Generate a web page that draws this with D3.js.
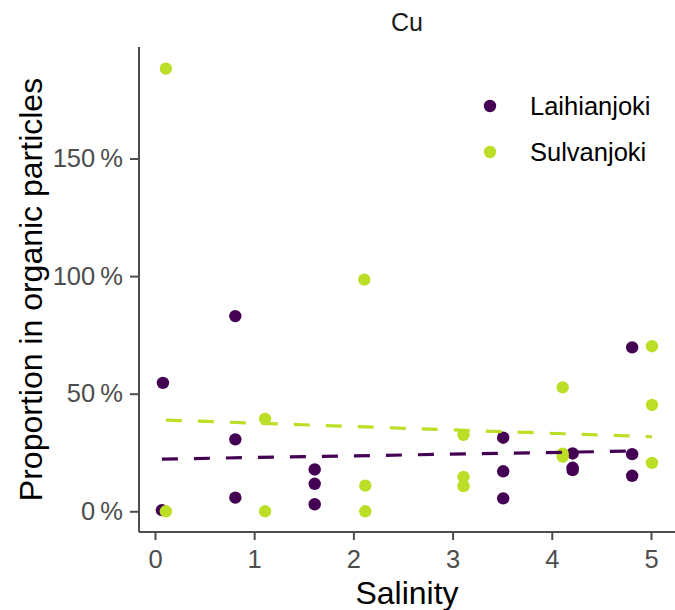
<!DOCTYPE html>
<html>
<head>
<meta charset="utf-8">
<script src="https://cdn.jsdelivr.net/npm/d3@7"></script>
<style>
  html, body { margin: 0; padding: 0; background: #fff; }
  svg { display: block; font-family: "Liberation Sans", Arial, sans-serif; }
</style>
</head>
<body>
<svg id="chart" width="675" height="610"></svg>
<script>
// ---- data ----
const seriesNames = ["Laihianjoki", "Sulvanjoki"];
const seriesColors = ["#440154", "#BBDF27"];

const laihianSalinity = [0.08, 0.07, 0.81, 0.81, 0.81, 1.61, 1.61, 1.61, 3.51, 3.51, 3.51, 4.21, 4.21, 4.21, 4.81, 4.81, 4.81];
const laihianValue    = [0.546, 0.005, 0.83, 0.306, 0.058, 0.178, 0.117, 0.03, 0.313, 0.17, 0.055, 0.246, 0.185, 0.175, 0.697, 0.243, 0.151];

const sulvanSalinity = [0.11, 0.11, 1.11, 1.11, 2.11, 2.12, 2.12, 3.11, 3.11, 3.11, 4.11, 4.11, 4.11, 5.01, 5.01, 5.01];
const sulvanValue    = [1.882, 0.0, 0.393, 0.0, 0.985, 0.109, 0.0, 0.325, 0.146, 0.107, 0.527, 0.245, 0.232, 0.702, 0.452, 0.206];

// fitted trend (start / end) per series
const laihianTrendX = [0.07, 4.81];
const laihianTrendY = [0.222, 0.256];
const sulvanTrendX  = [0.11, 5.01];
const sulvanTrendY  = [0.388, 0.317];

const xTicks = [0, 1, 2, 3, 4, 5];
const yTicks = [0, 0.5, 1.0, 1.5];
const panelTitle = "Cu";
const xTitle = "Salinity";
const yTitle = "Proportion in organic particles";

// ---- layout ----
const svg = d3.select("#chart");
const panel = { left: 139, right: 675, top: 47, bottom: 532 };

const x = d3.scaleLinear().domain([-0.161, 5.242]).range([panel.left, panel.right]);
const y = d3.scaleLinear().domain([-0.088, 1.974]).range([panel.bottom, panel.top]);

const axisColor = "#4d4d4d";

const series = [
  { name: seriesNames[0], color: seriesColors[0], xs: laihianSalinity, ys: laihianValue, tx: laihianTrendX, ty: laihianTrendY },
  { name: seriesNames[1], color: seriesColors[1], xs: sulvanSalinity, ys: sulvanValue, tx: sulvanTrendX, ty: sulvanTrendY }
];

// points
const gPts = svg.append("g");
series.forEach(s => {
  gPts.selectAll(null)
    .data(s.xs.map((v, i) => [v, s.ys[i]]))
    .enter().append("circle")
    .attr("cx", d => x(d[0]))
    .attr("cy", d => y(d[1]))
    .attr("r", 6.2)
    .attr("fill", s.color);
});

// trend lines
const line = d3.line().x(d => x(d[0])).y(d => y(d[1]));
series.forEach(s => {
  svg.append("path")
    .datum(s.tx.map((v, i) => [v, s.ty[i]]))
    .attr("d", line)
    .attr("fill", "none")
    .attr("stroke", s.color)
    .attr("stroke-width", 3.2)
    .attr("stroke-dasharray", "16,16");
});

// axes
const xAxis = d3.axisBottom(x).tickValues(xTicks).tickFormat(d3.format("d")).tickSize(8).tickPadding(10).tickSizeOuter(0);
const gx = svg.append("g").attr("transform", `translate(0,${panel.bottom})`).call(xAxis);
const yAxis = d3.axisLeft(y).tickValues(yTicks).tickFormat(d => Math.round(d * 100) + "\u2009%").tickSize(9).tickPadding(7).tickSizeOuter(0);
const gy = svg.append("g").attr("transform", `translate(${panel.left},0)`).call(yAxis);

[gx, gy].forEach(g => {
  g.select(".domain").attr("stroke", axisColor).attr("stroke-width", 2);
  g.selectAll(".tick line").attr("stroke", axisColor).attr("stroke-width", 2);
  g.selectAll(".tick text").attr("fill", axisColor).attr("font-size", 25.5)
    .attr("font-family", "Liberation Sans, Arial, sans-serif");
});
gy.select(".domain").attr("d", `M0,${panel.bottom}V${panel.top}`);
gx.select(".domain").attr("d", `M${panel.left},0H${panel.right}`);

// titles
svg.append("text").attr("x", (panel.left + panel.right) / 2).attr("y", 31)
  .attr("text-anchor", "middle").attr("font-size", 25).attr("fill", "#1a1a1a").text(panelTitle);
svg.append("text").attr("x", (panel.left + panel.right) / 2).attr("y", 604)
  .attr("text-anchor", "middle").attr("font-size", 32).attr("fill", "#000").text(xTitle);
svg.append("text").attr("transform", `translate(42,${(panel.top + panel.bottom) / 2}) rotate(-90)`)
  .attr("text-anchor", "middle").attr("font-size", 32).attr("fill", "#000").text(yTitle);

// legend
const legend = svg.append("g");
series.forEach((s, i) => {
  const ly = 106 + i * 46;
  legend.append("circle").attr("cx", 490).attr("cy", ly).attr("r", 6.2).attr("fill", s.color);
  legend.append("text").attr("x", 530).attr("y", ly + 9).attr("font-size", 25.5).attr("fill", "#000").text(s.name);
});
</script>
</body>
</html>
